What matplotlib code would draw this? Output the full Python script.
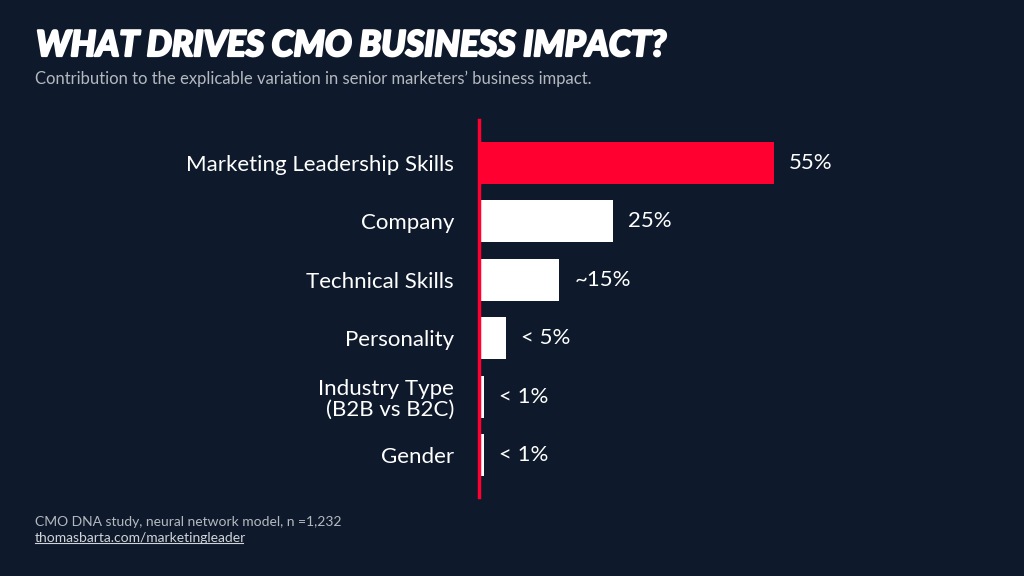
import matplotlib.pyplot as plt
import matplotlib.patheffects as pe

categories = ["Marketing Leadership Skills", "Company", "Technical Skills",
              "Personality", "Industry Type\n(B2B vs B2C)", "Gender"]
values = [55, 25, 15, 5, 1, 1]
value_labels = ["55%", "25%", "~15%", "< 5%", "< 1%", "< 1%"]

bg = "#0e1a2b"
red = "#ff0030"
plt.rcParams["font.family"] = ["Lato", "DejaVu Sans"]

fig = plt.figure(figsize=(10.24, 5.76), dpi=100, facecolor=bg)
ax = fig.add_axes([479 / 1024, 1 - 497 / 576, 536 / 1024, 377 / 576])
ax.set_facecolor(bg)

colors = [red] + ["white"] * (len(values) - 1)
ypos = range(len(values))
ax.barh(ypos, values, height=0.72, color=colors)
ax.set_xlim(0, 100)
ax.set_ylim(5.72, -0.736)

for y, v, lab in zip(ypos, values, value_labels):
    ax.text(v + 2.8, y, lab, color="white", fontsize=16, va="center", ha="left")

ax.set_yticks(list(ypos))
ax.set_yticklabels(categories, color="white", fontsize=16, linespacing=1.05)
ax.tick_params(axis="y", length=0, pad=18)
ax.set_xticks([])
for s in ["top", "right", "bottom"]:
    ax.spines[s].set_visible(False)
ax.spines["left"].set_color(red)
ax.spines["left"].set_linewidth(2.5)

# title: heavy italic, thickened with a stroke
fig.text(36 / 1024, 1 - 46 / 576, "WHAT DRIVES CMO BUSINESS IMPACT?", color="white",
         fontsize=25.5, fontweight="black", fontstyle="italic", va="center", ha="left",
         path_effects=[pe.withStroke(linewidth=1.6, foreground="white")])
fig.text(35 / 1024, 1 - 79 / 576, "Contribution to the explicable variation in senior marketers\u2019 business impact.",
         color="#b4b9c0", fontsize=12, va="center", ha="left")
fig.text(35 / 1024, 1 - 522 / 576, "CMO DNA study, neural network model, n =1,232",
         color="#b4b9c0", fontsize=10, va="center", ha="left")
link = fig.text(35 / 1024, 1 - 538 / 576, "thomasbarta.com/marketingleader",
                color="#d0d4da", fontsize=10, va="center", ha="left")
fig.canvas.draw()
bb = link.get_window_extent()
fig.add_artist(plt.Line2D([bb.x0 / 1024, (bb.x1 - 3) / 1024], [(bb.y0 + 1) / 576] * 2,
                          color="#d0d4da", linewidth=0.8))

fig.savefig("out.png", facecolor=bg)
